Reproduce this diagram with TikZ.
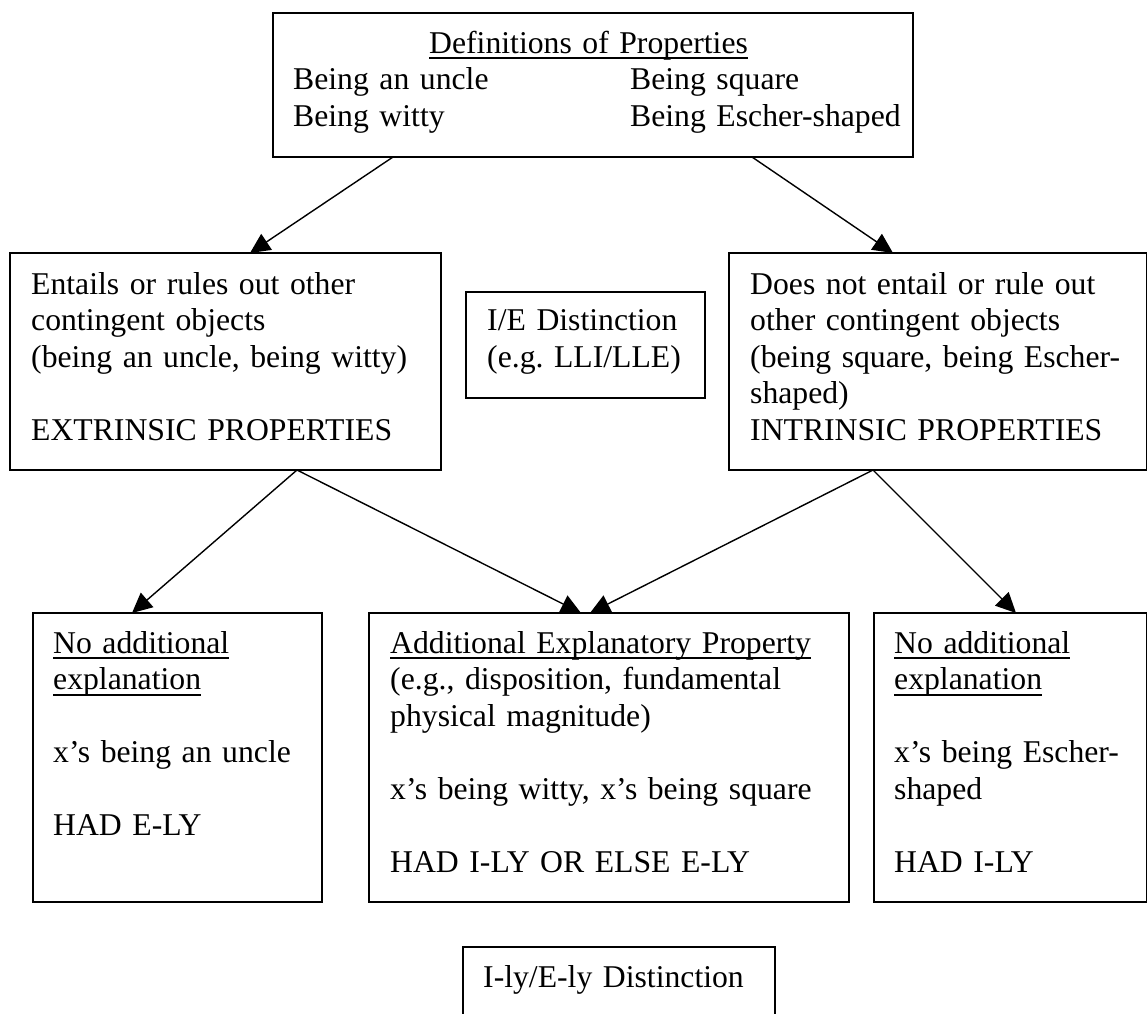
\documentclass[tikz,border=0pt]{standalone}
\usepackage{fontspec}
\setmainfont{Liberation Serif}[WordSpace=0.75]
\usetikzlibrary{arrows.meta,calc}
\newcommand\ulin[1]{\leavevmode\setbox0\hbox{#1}\rlap{\rule[-6pt]{\wd0}{1.8pt}}\box0}
\begin{document}
\begin{tikzpicture}[x=1pt,y=-1pt,
  box/.style={draw,line width=1.8pt,rectangle,inner sep=0pt,outer sep=0pt,anchor=north west},
  txt/.style={anchor=base west,inner sep=0pt,align=left,text width=600pt,font=\fontsize{31.7}{36.5}\selectfont\frenchspacing},
  arr/.style={-{Triangle[length=20pt,width=19pt]},line width=1.4pt}]
\useasboundingbox (0,0) rectangle (1148,1013);
% boxes
\node[box,minimum width=640pt,minimum height=144pt] (defs) at (273,13) {};
\node[box,minimum width=431pt,minimum height=217pt] (ext) at (10,253) {};
\node[box,minimum width=239pt,minimum height=106pt] (ie) at (466,292) {};
\node[box,minimum width=417.5pt,minimum height=217pt] (intr) at (729,253) {};
\node[box,minimum width=289pt,minimum height=289pt] (nob1) at (33,613) {};
\node[box,minimum width=480pt,minimum height=289pt] (aep) at (369,613) {};
\node[box,minimum width=272.5pt,minimum height=289pt] (nob2) at (874,613) {};
\begin{scope}
\clip (0,0) rectangle (1148,1013);
\node[box,minimum width=312pt,minimum height=120pt] (ily) at (463,947) {};
\end{scope}
% texts
\node[txt] (defst) at (429,53) {\ulin{Definitions of Properties}};
\node[txt] (defsl) at (293,89.5) {Being an uncle\\Being witty};
\node[txt] (defsr) at (630,89.5) {Being square\\Being Escher-shaped};
\node[txt] (extt) at (31,294) {Entails or rules out other\\contingent objects\\(being an uncle, being witty)\\[36.5pt]EXTRINSIC PROPERTIES};
\node[txt] (iet) at (487,330.5) {I/E Distinction\\(e.g. LLI/LLE)};
\node[txt] (intrt) at (750,294) {Does not entail or rule out\\other contingent objects\\(being square, being Escher-\\shaped)\\INTRINSIC PROPERTIES};
\node[txt] (nob1t) at (53,653) {\ulin{No additional}\\\ulin{explanation}\\[36.5pt]x’s being an uncle\\[36.5pt]HAD E-LY};
\node[txt] (aept) at (390,653) {\ulin{Additional Explanatory Property}\\(e.g., disposition, fundamental\\physical magnitude)\\[36.5pt]x’s being witty, x’s being square\\[36.5pt]HAD I-LY OR ELSE E-LY};
\node[txt] (nob2t) at (894,653) {\ulin{No additional}\\\ulin{explanation}\\[36.5pt]x’s being Escher-\\shaped\\[36.5pt]HAD I-LY};
\node[txt] (ilyt) at (483,987) {I-ly/E-ly Distinction};
% connectors
\draw[arr] ($(defs.south west)+(120,0)$) -- ($(ext.north west)+(240,0)$);
\draw[arr] ($(defs.south west)+(479,0)$) -- ($(intr.north west)+(164,0)$);
\draw[arr] ($(ext.south west)+(287,0)$) -- ($(nob1.north west)+(99,0)$);
\draw[arr] ($(ext.south west)+(287,0)$) -- ($(aep.north west)+(212,0)$);
\draw[arr] ($(intr.south west)+(144,0)$) -- ($(aep.north west)+(221,0)$);
\draw[arr] ($(intr.south west)+(144,0)$) -- ($(nob2.north west)+(142,0)$);
\end{tikzpicture}
\end{document}
